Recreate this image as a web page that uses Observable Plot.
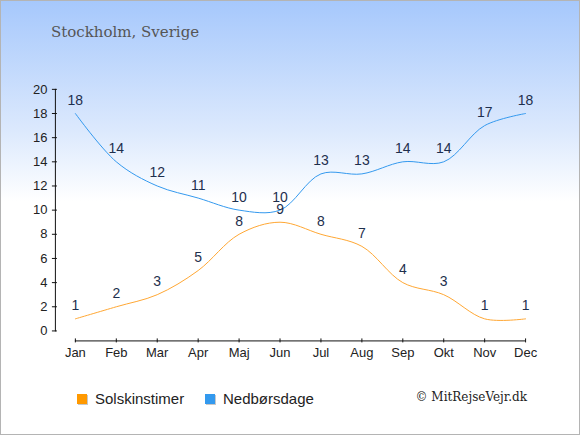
<!DOCTYPE html>
<html>
<head>
<meta charset="utf-8">
<script src="https://cdn.jsdelivr.net/npm/d3@7"></script>
<script src="https://cdn.jsdelivr.net/npm/@observablehq/plot@0.6"></script>
<style>
  html, body { margin: 0; padding: 0; }
  #wrap {
    position: relative; width: 580px; height: 435px; box-sizing: border-box;
    border: 1px solid #b4b4b4; overflow: hidden;
    background: linear-gradient(to bottom, #a6c8fc 0px, #dce9fd 130px, #ffffff 200px, #ffffff 435px);
    font-family: "Liberation Sans", Arial, sans-serif;
  }
  #chart { position: absolute; left: -1px; top: -1px; }
  #title { position: absolute; left: 50px; top: 22px; font-family: "DejaVu Serif", serif; font-size: 15px; color: #555; }
  .leg { position: absolute; top: 389px; font-size: 15px; color: #222; display: flex; align-items: center; }
  .sw { width: 10px; height: 10px; margin-right: 8px; box-shadow: 1px 1px 0 #c8c8c8; }
  #copy { position: absolute; right: 52px; top: 389px; font-family: "DejaVu Serif", serif; font-size: 12px; color: #222; }
</style>
</head>
<body>
<div id="wrap">
  <div id="chart"></div>
  <div id="title">Stockholm, Sverige</div>
  <div class="leg" style="left:76px"><div class="sw" style="background:#ff9900"></div>Solskinstimer</div>
  <div class="leg" style="left:204px"><div class="sw" style="background:#3399ee"></div>Nedbørsdage</div>
  <div id="copy">© MitRejseVejr.dk</div>
</div>
<script>
const months = ["Jan","Feb","Mar","Apr","Maj","Jun","Jul","Aug","Sep","Okt","Nov","Dec"];
const sunHours = [1,2,3,5,8,9,8,7,4,3,1,1];
const rainDays = [18,14,12,11,10,10,13,13,14,14,17,18];
const yTicks = [0,2,4,6,8,10,12,14,16,18,20];

const sun = months.map((m,i)=>({month:m, value:sunHours[i]}));
const rain = months.map((m,i)=>({month:m, value:rainDays[i]}));

const plot = Plot.plot({
  width: 580, height: 435,
  marginTop: 89, marginBottom: 104, marginLeft: 55, marginRight: 54,
  style: {background: "transparent", fontFamily: "'Liberation Sans', Arial, sans-serif", fontSize: "13px", color: "#222"},
  x: {type: "point", domain: months, padding: 0, insetLeft: 19},
  y: {domain: [0,20]},
  marks: [
    Plot.frame({anchor: "left", stroke: "#111"}),
    Plot.axisY({ticks: yTicks, tickSize: 5, dx: 2, tickPadding: 5, label: null, fontSize: 13, stroke: "#111", fill: "#222"}),
    Plot.ruleY([{a:"Jan", b:"Dec", y:0}], {x1:"a", x2:"b", y:"y", dy: 10, stroke:"#111"}),
    Plot.axisX({tickSize: 4, dy: 8, tickPadding: 5, label: null, fontSize: 13, stroke:"#111", fill:"#222"}),
    Plot.line(rain, {x:"month", y:"value", stroke:"#3399ee", strokeWidth: 1, curve:"catmull-rom"}),
    Plot.line(sun, {x:"month", y:"value", stroke:"#ffa733", strokeWidth: 1, curve:"catmull-rom"}),
    Plot.text(rain, {x:"month", y:"value", text:"value", dy:-13, fill:"#1e2f4d", fontSize: 14}),
    Plot.text(sun, {x:"month", y:"value", text:"value", dy:-13, fill:"#1e2f4d", fontSize: 14})
  ]
});
document.getElementById("chart").appendChild(plot);
</script>
</body>
</html>
